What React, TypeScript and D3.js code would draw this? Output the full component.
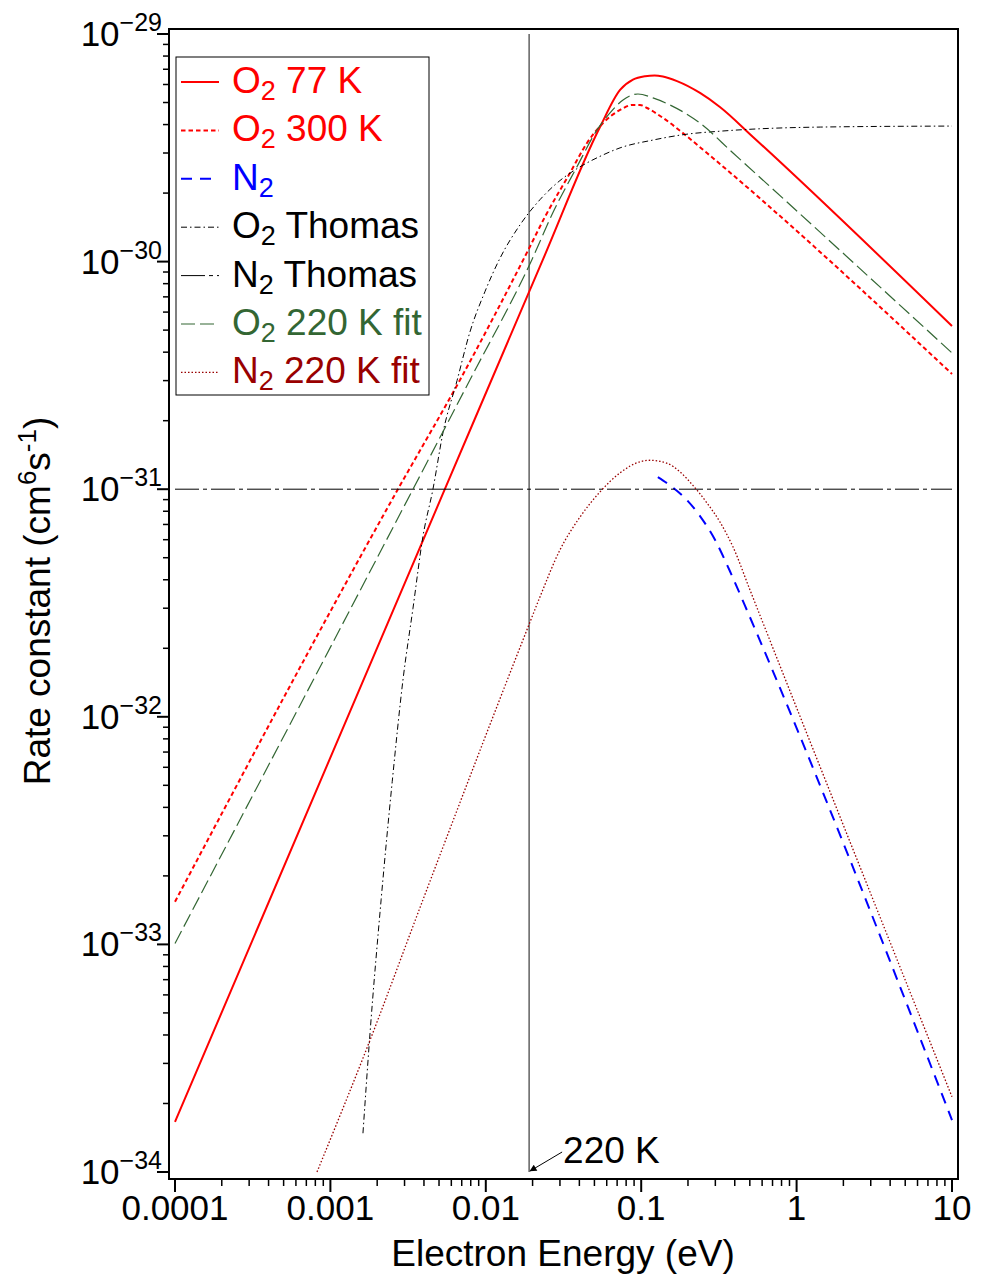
import React from "react";
import * as d3 from "d3";

// ---------- data (electron energy in eV, rate constant in cm^6 s^-1) ----------
const O2_77K: [number, number][] = [
  [1e-4, 1.66e-34], [5.45e-3, 1.0e-31], [0.0233, 1.02e-30], [0.0543, 3.9e-30],
  [0.0731, 5.68e-30], [0.0885, 6.3e-30], [0.106, 6.52e-30], [0.122, 6.57e-30],
  [0.138, 6.5e-30], [0.17, 6.21e-30], [0.239, 5.51e-30], [0.321, 4.78e-30],
  [0.524, 3.53e-30], [10, 5.21e-31],
];
const O2_300K: [number, number][] = [
  [1e-4, 1.54e-33], [2.72e-3, 1.0e-31], [6.82e-3, 3.02e-31], [0.0187, 1.12e-30],
  [0.024, 1.57e-30], [0.0348, 2.45e-30], [0.0448, 3.32e-30], [0.0568, 4.06e-30],
  [0.0731, 4.64e-30], [0.0885, 4.88e-30], [0.0982, 4.88e-30], [0.109, 4.73e-30],
  [0.138, 4.28e-30], [0.197, 3.55e-30], [0.265, 3.0e-30], [10, 3.21e-31],
];
const N2_DATA: [number, number][] = [
  [0.128, 1.13e-31], [0.153, 1.04e-31], [0.191, 9.15e-32], [0.239, 7.62e-32],
  [0.299, 5.98e-32], [0.372, 4.37e-32], [0.466, 3.07e-32], [10, 1.69e-34],
];
const O2_THOMAS: [number, number][] = [
  [1.62e-3, 1.48e-34], [1.8e-3, 4.1e-34], [2.12e-3, 1.57e-33], [2.5e-3, 5.2e-33],
  [2.93e-3, 1.45e-32], [3.4e-3, 3.0e-32], [3.94e-3, 6.2e-32], [4.57e-3, 1.0e-31],
  [5.31e-3, 1.78e-31], [6.53e-3, 3.0e-31], [7.9e-3, 4.9e-31], [9.89e-3, 7.4e-31],
  [0.0123, 1.03e-30], [0.0166, 1.45e-30], [0.0223, 1.87e-30], [0.03, 2.27e-30],
  [0.0386, 2.56e-30], [0.0543, 2.9e-30], [0.0731, 3.16e-30], [0.119, 3.42e-30],
  [0.197, 3.63e-30], [0.321, 3.74e-30], [0.524, 3.82e-30], [1.42, 3.9e-30],
  [10, 3.94e-30],
];
const N2_THOMAS: [number, number][] = [[1e-4, 1e-31], [10, 1e-31]];
const O2_220K_FIT: [number, number][] = [
  [1e-4, 1.01e-33], [3.4e-3, 1.0e-31], [7.9e-3, 3.02e-31], [0.0198, 1.02e-30],
  [0.027, 1.64e-30], [0.0386, 2.61e-30], [0.052, 3.79e-30], [0.063, 4.5e-30],
  [0.0764, 5.13e-30], [0.0953, 5.45e-30], [0.119, 5.24e-30], [0.153, 4.88e-30],
  [0.239, 4.06e-30], [0.39, 3.0e-30], [10, 3.97e-31],
];
const N2_220K_FIT: [number, number][] = [
  [8.2e-4, 1.0e-34], [1.8e-3, 3.8e-34], [3.94e-3, 1.57e-33], [0.0187, 2.48e-32],
  [0.0223, 3.36e-32], [0.03, 5.41e-32], [0.0404, 7.55e-32], [0.0543, 9.73e-32],
  [0.0731, 1.18e-31], [0.0982, 1.32e-31], [0.114, 1.34e-31], [0.147, 1.3e-31],
  [0.178, 1.19e-31], [0.215, 1.04e-31], [0.265, 8.7e-32], [0.321, 7.18e-32],
  [0.39, 5.57e-32], [0.501, 3.61e-32], [10, 2.14e-34],
];

const X_TICKS = [1e-4, 1e-3, 1e-2, 1e-1, 1, 10];
const X_TICK_LABELS = ["0.0001", "0.001", "0.01", "0.1", "1", "10"];
const Y_EXPONENTS = [-29, -30, -31, -32, -33, -34];
const T220_EV = 0.019; // k_B * 220 K
const ANNOT_LABEL = "220 K";

const FONT = "'Liberation Sans', Arial, Helvetica, sans-serif";

type Series = {
  name: string;
  data: [number, number][];
  color: string;
  width: number;
  dash: string | null;
  labelMain: string;
  labelSub: string;
  labelRest: string;
  textColor: string;
};

const SERIES: Series[] = [
  { name: "o2_77", data: O2_77K, color: "#ff0000", width: 2, dash: null, labelMain: "O", labelSub: "2", labelRest: " 77 K", textColor: "#ff0000" },
  { name: "o2_300", data: O2_300K, color: "#ff0000", width: 2, dash: "4.5,3", labelMain: "O", labelSub: "2", labelRest: " 300 K", textColor: "#ff0000" },
  { name: "n2", data: N2_DATA, color: "#0000ff", width: 2, dash: "11,8", labelMain: "N", labelSub: "2", labelRest: "", textColor: "#0000ff" },
  { name: "o2_thomas", data: O2_THOMAS, color: "#000000", width: 1, dash: "6,3,1.5,3", labelMain: "O", labelSub: "2", labelRest: " Thomas", textColor: "#000000" },
  { name: "n2_thomas", data: N2_THOMAS, color: "#000000", width: 1, dash: "24,4,4,4", labelMain: "N", labelSub: "2", labelRest: " Thomas", textColor: "#000000" },
  { name: "o2_220", data: O2_220K_FIT, color: "#336633", width: 1.2, dash: "14,5", labelMain: "O", labelSub: "2", labelRest: " 220 K fit", textColor: "#336633" },
  { name: "n2_220", data: N2_220K_FIT, color: "#990000", width: 1.3, dash: "1.5,2", labelMain: "N", labelSub: "2", labelRest: " 220 K fit", textColor: "#990000" },
];

export default function App() {
  const W = 985;
  const H = 1280;
  const x = d3.scaleLog().domain([1e-4, 10]).range([175, 952]);
  const y = d3.scaleLog().domain([1e-34, 1e-29]).range([1172, 34]);

  const left = x(1e-4) - 6;
  const right = x(10) + 6;
  const top = y(1e-29) - 5;
  const bottom = y(1e-34) + 7;

  const line = d3
    .line<[number, number]>()
    .x((d) => x(d[0]))
    .y((d) => y(d[1]))
    .curve(d3.curveMonotoneX);

  const xMinor: number[] = [];
  for (let e = -4; e < 1; e++) for (let m = 2; m <= 9; m++) xMinor.push(m * Math.pow(10, e));
  const yMinor: number[] = [];
  for (let e = -34; e < -29; e++) for (let m = 2; m <= 9; m++) yMinor.push(m * Math.pow(10, e));

  const legX = 176;
  const legY = 57;
  const legW = 253;
  const legH = 338;
  const rowBase = 93;
  const rowStep = 48.4;

  const vx = x(T220_EV);

  return (
    <svg width={W} height={H} style={{ position: "absolute", left: 0, top: 0, background: "#fff" }} fontFamily={FONT}>
      <defs>
        <clipPath id="plotclip">
          <rect x={left} y={top} width={right - left} height={bottom - top} />
        </clipPath>
        <marker id="arrowhead" viewBox="0 0 10 10" refX="9" refY="5" markerWidth="9" markerHeight="7" orient="auto" markerUnits="userSpaceOnUse">
          <path d="M0,0 L10,5 L0,10 z" fill="#000" />
        </marker>
      </defs>
      <rect x={0} y={0} width={W} height={H} fill="#fff" />

      <line x1={vx} x2={vx} y1={y(1e-29)} y2={y(1e-34)} stroke="#555" strokeWidth={1.4} />

      <g clipPath="url(#plotclip)">
        {SERIES.map((s) => (
          <path
            key={s.name}
            d={line(s.data) || ""}
            fill="none"
            stroke={s.color}
            strokeWidth={s.width}
            strokeDasharray={s.dash || undefined}
          />
        ))}
      </g>

      <line x1={vx + 33} y1={y(1e-34) - 20} x2={vx + 1} y2={y(1e-34) - 1} stroke="#000" strokeWidth={1} markerEnd="url(#arrowhead)" />
      <text x={vx + 34} y={y(1e-34) - 9} fontSize={37} fill="#000">{ANNOT_LABEL}</text>

      <rect x={left} y={top} width={right - left} height={bottom - top} fill="none" stroke="#000" strokeWidth={2} />

      {X_TICKS.map((t, i) => (
        <g key={"xt" + i}>
          <line x1={x(t)} x2={x(t)} y1={bottom} y2={bottom + 13} stroke="#000" strokeWidth={2} />
          <text x={x(t)} y={1220} textAnchor="middle" fontSize={35} fill="#000">{X_TICK_LABELS[i]}</text>
        </g>
      ))}
      {xMinor.map((t, i) => (
        <line key={"xm" + i} x1={x(t)} x2={x(t)} y1={bottom} y2={bottom + 7} stroke="#000" strokeWidth={1.5} />
      ))}

      {Y_EXPONENTS.map((e) => {
        const v = Math.pow(10, e);
        const yy = y(v);
        return (
          <g key={"yt" + e}>
            <line x1={left - 12} x2={left} y1={yy} y2={yy} stroke="#000" strokeWidth={2} />
            <text x={162} y={yy + 12} textAnchor="end" fill="#000">
              <tspan fontSize={35}>10</tspan>
              <tspan fontSize={25} dy={-15}>{"\u2212" + String(Math.abs(e))}</tspan>
            </text>
          </g>
        );
      })}
      {yMinor.map((t, i) => (
        <line key={"ym" + i} x1={left - 6} x2={left} y1={y(t)} y2={y(t)} stroke="#000" strokeWidth={1.5} />
      ))}

      <text x={563} y={1266} textAnchor="middle" fontSize={37} fill="#000">Electron Energy (eV)</text>
      <text transform="translate(50,601) rotate(-90)" textAnchor="middle" fontSize={37} fill="#000">
        <tspan>Rate constant (cm</tspan>
        <tspan fontSize={26} dy={-14}>6</tspan>
        <tspan dy={14}>s</tspan>
        <tspan fontSize={26} dy={-14}>-1</tspan>
        <tspan dy={14}>)</tspan>
      </text>

      <rect x={legX} y={legY} width={legW} height={legH} fill="#fff" stroke="#000" strokeWidth={1} />
      {SERIES.map((s, i) => {
        const base = rowBase + i * rowStep;
        const ly = base - 11;
        return (
          <g key={"leg" + s.name}>
            <line x1={181} x2={219} y1={ly} y2={ly} stroke={s.color} strokeWidth={s.width} strokeDasharray={s.dash || undefined} />
            <text x={232} y={base} fontSize={37} fill={s.textColor}>
              <tspan>{s.labelMain}</tspan>
              <tspan fontSize={27} dy={7}>{s.labelSub}</tspan>
              <tspan dy={-7}>{s.labelRest}</tspan>
            </text>
          </g>
        );
      })}
    </svg>
  );
}
